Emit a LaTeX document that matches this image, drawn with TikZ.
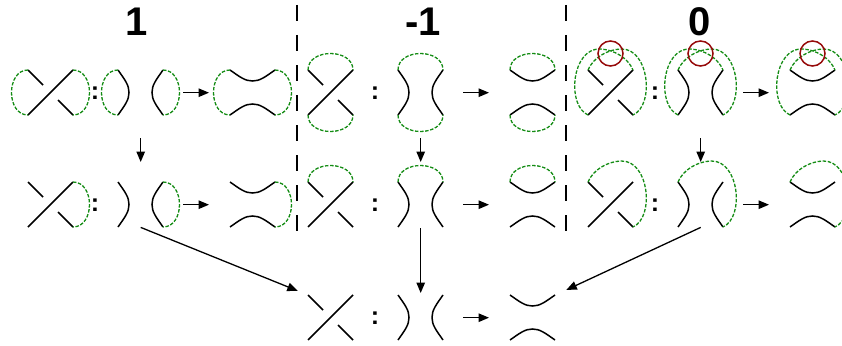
\documentclass[tikz,border=0pt]{standalone}
\usepackage{fontspec}
\setmainfont{Liberation Sans}
\usetikzlibrary{arrows.meta}
\definecolor{loopgreen}{RGB}{20,140,20}
\definecolor{ringred}{RGB}{150,10,10}

\begin{document}
\begin{tikzpicture}[x=1pt,y=-1pt,
        diag/.style={minimum width=45pt,minimum height=45pt,inner sep=0pt,anchor=north west},
        strand/.style={line width=1.5pt},
        closure/.style={draw=loopgreen,line width=1.3pt,dash pattern=on 3.5pt off 1.6pt},
        ring/.style={draw=ringred,line width=1.5pt},
        flow/.style={line width=1.3pt,-{Triangle[length=10.5pt,width=8.5pt]}},
        title/.style={font=\bfseries\fontsize{40}{40}\selectfont,anchor=base,inner sep=0pt},
        colon/.style={font=\bfseries\fontsize{25}{25}\selectfont,inner sep=0pt},
        divider/.style={line width=1.5pt,dash pattern=on 16pt off 14pt},
        ]
    \useasboundingbox (0,0) rectangle (842,345);

    \def\crossing#1{\draw[strand,shift={(#1.north west)}] (0,45) -- (45,0) (0,0) -- (15,15) (30,30) -- (45,45);}
    \def\vsplit#1{\draw[strand,shift={(#1.north west)}] (0,0) .. controls (7,10) and (11,15) .. (11,22.5) .. controls (11,30) and (7,35) .. (0,45) (45,0) .. controls (38,10) and (34,15) .. (34,22.5) .. controls (34,30) and (38,35) .. (45,45);}
    \def\hsplit#1{\draw[strand,shift={(#1.north west)}] (0,0) .. controls (10,7) and (15,11) .. (22.5,11) .. controls (30,11) and (35,7) .. (45,0) (0,45) .. controls (10,38) and (15,34) .. (22.5,34) .. controls (30,34) and (35,38) .. (45,45);}
    \def\arcl#1{\draw[closure,shift={(#1.north west)}] (0,0) .. controls (-22,0) and (-22,45) .. (0,45);}
    \def\arcr#1{\draw[closure,shift={(#1.north west)}] (45,0) .. controls (67,0) and (67,45) .. (45,45);}
    \def\arct#1{\draw[closure,shift={(#1.north west)}] (0,0) .. controls (0,-22) and (45,-22) .. (45,0);}
    \def\arcb#1{\draw[closure,shift={(#1.north west)}] (0,45) .. controls (0,67) and (45,67) .. (45,45);}
    \def\twistl#1{\draw[closure,shift={(#1.north west)}] (0,45) .. controls (-22,35) and (-16,-22) .. (12,-21) .. controls (26,-20.5) and (40,-12) .. (45,0);}
    \def\twistr#1{\draw[closure,shift={(#1.north west)}] (0,0) .. controls (5,-12) and (19,-20.5) .. (33,-21) .. controls (61,-22) and (67,35) .. (45,45);}
    \def\ring#1{\draw[ring,shift={(#1.north west)}] (22.5,-16.5) circle[radius=12.5];}

    \node[title] (t1) at (137,36) {1};
    \node[title] (t2) at (423,36) {-1};
    \node[title] (t3) at (700,36) {0};

    \draw[divider] (297,5) -- (297,245);
    \draw[divider] (566,5) -- (566,245);

    \foreach \b/\x in {p/28,m/308,z/588} {
        \foreach \r/\y in {a/70,b/182} {
            \node[diag] (\b\r1) at (\x,\y) {};
            \node[diag] (\b\r2) at (\x+90,\y) {};
            \node[diag] (\b\r3) at (\x+202,\y) {};
            \node[colon] (\b\r c) at (\x+67,\y+23) {:};
            \crossing{\b\r1} \vsplit{\b\r2} \hsplit{\b\r3}
            \draw[flow,shorten <=20pt,shorten >=21pt] (\b\r2.east) -- (\b\r3.west);
        }
        \draw[flow,shorten <=23pt,shorten >=20pt] (\b a2.south) -- (\b b2.north);
    }
    \node[diag] (c1) at (308,295) {};
    \node[diag] (c2) at (398,295) {};
    \node[diag] (c3) at (510,295) {};
    \node[colon] (cc) at (375,318) {:};
    \crossing{c1} \vsplit{c2} \hsplit{c3}
    \draw[flow,shorten <=20pt,shorten >=21pt] (c2.east) -- (c3.west);

    \foreach \i in {1,2,3} {
        \arcl{pa\i} \arcr{pa\i} \arcr{pb\i}
        \arct{ma\i} \arcb{ma\i} \arct{mb\i}
        \twistl{za\i} \twistr{za\i} \ring{za\i} \twistr{zb\i}
    }

    \draw[flow,shorten <=1pt,shorten >=2pt] (mb2.south) -- (c2.north);
    \draw[flow,shorten >=11pt] (pb2.south) -- (c1.north west);
    \draw[flow,shorten >=12pt] (zb2.south) -- (c3.north east);
\end{tikzpicture}
\end{document}
